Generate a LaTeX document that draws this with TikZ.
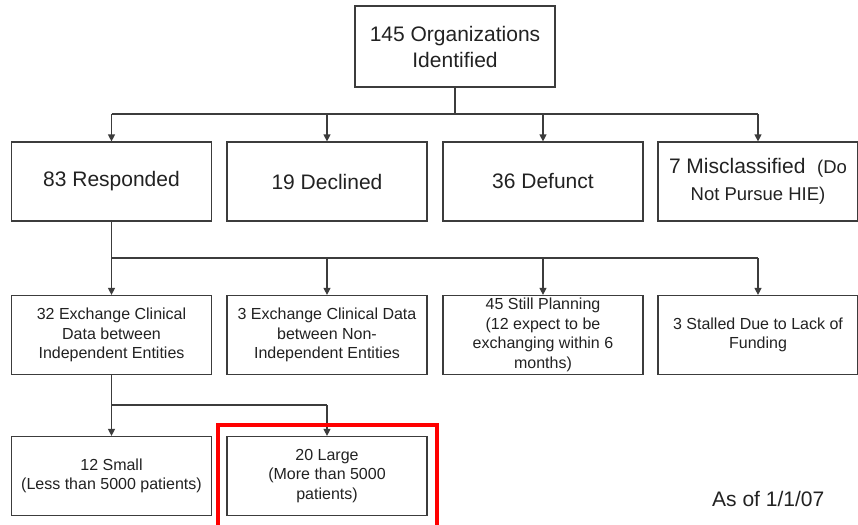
\documentclass[tikz,border=0pt]{standalone}
\usepackage{fontspec}
\setmainfont{Liberation Sans}
\usetikzlibrary{arrows.meta}
\definecolor{ln}{RGB}{60,60,60}
\definecolor{tx}{RGB}{34,34,34}
\begin{document}
\begin{tikzpicture}[x=1pt,y=-1pt,
  bigbox/.style={draw=ln,line width=1.2pt,minimum width=200pt,minimum height=79pt,inner sep=0pt,align=center,text=tx,font=\fontsize{21}{26}\selectfont},
  smallbox/.style={bigbox,font=\fontsize{16}{19.5}\selectfont},
  conn/.style={draw=ln,line width=1.2pt},
  arr/.style={conn,-{Triangle[length=7pt,width=7pt]}}]
\useasboundingbox[fill=white] (0,0) rectangle (858,524);
% nodes
\node[bigbox,minimum height=81pt] (top) at (455,46.5) {145 Organizations\\Identified};
\node[bigbox] (resp) at (111.5,181.5) {83 Responded};
\node[bigbox] (decl) at (327,181.5) {19 Declined};
\node[bigbox] (defu) at (543,181.5) {36 Defunct};
\node[bigbox] (misc) at (758,181.5) {7 Misclassified\ \ {\fontsize{18.5}{22}\selectfont(Do}\\[1pt]{\fontsize{18.5}{22}\selectfont Not Pursue HIE)}};
\node[smallbox] (indep) at (111.5,335) {32 Exchange Clinical\\Data between\\Independent Entities};
\node[smallbox] (nonind) at (327,335) {3 Exchange Clinical Data\\between Non-\\Independent Entities};
\node[smallbox] (plan) at (543,335) {45 Still Planning\\(12 expect to be\\exchanging within 6\\months)};
\node[smallbox] (stall) at (758,335) {3 Stalled Due to Lack of\\Funding};
\node[smallbox] (small) at (111.5,476) {12 Small\\(Less than 5000 patients)};
\node[smallbox] (large) at (327,476) {20 Large\\(More than 5000\\patients)};
\node[text=tx,font=\fontsize{21}{26}\selectfont,anchor=west,inner sep=0pt] (asof) at (712,499) {As of 1/1/07};
% junction coordinates
\coordinate (j1) at (top.south |- 0,114);
\coordinate (j2) at (resp.south |- 0,258);
\coordinate (j3) at (indep.south |- 0,405);
% connectors
\draw[conn] (top.south) -- (j1);
\draw[conn] (resp.north |- j1) -- (misc.north |- j1);
\draw[arr] (resp.north |- j1) -- (resp.north);
\draw[arr] (decl.north |- j1) -- (decl.north);
\draw[arr] (defu.north |- j1) -- (defu.north);
\draw[arr] (misc.north |- j1) -- (misc.north);
\draw[conn] (resp.south) -- (j2);
\draw[conn] (j2) -- (stall.north |- j2);
\draw[arr] (j2) -- (indep.north);
\draw[arr] (nonind.north |- j2) -- (nonind.north);
\draw[arr] (plan.north |- j2) -- (plan.north);
\draw[arr] (stall.north |- j2) -- (stall.north);
\draw[conn] (indep.south) -- (j3);
\draw[conn] (j3) -- (large.north |- j3);
\draw[arr] (j3) -- (small.north);
\draw[arr] (large.north |- j3) -- (large.north);
% highlight
\draw[red,line width=4pt] (217.5,526) -- (217.5,424.5) -- (436.5,424.5) -- (436.5,526);
\end{tikzpicture}
\end{document}
